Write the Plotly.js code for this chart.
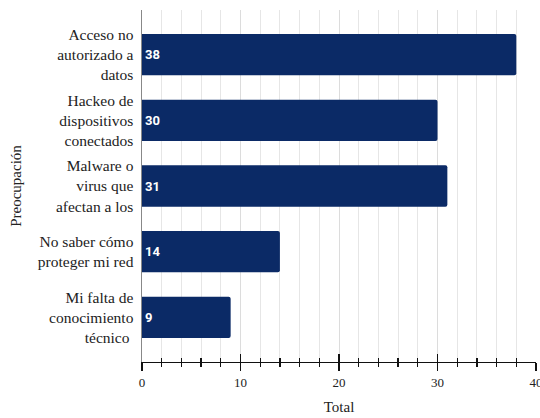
<!DOCTYPE html>
<html><head><meta charset="utf-8">
<script src="https://cdn.plot.ly/plotly-3.0.1.min.js"></script>
<style>body{margin:0;padding:0;background:#fff}#chart{width:540px;height:418px}</style>
</head><body><div id="chart"></div>
<script>
const categories = ["Acceso no<br>autorizado a<br>datos","Hackeo de<br>dispositivos<br>conectados","Malware o<br>virus que<br>afectan a los","No saber cómo<br>proteger mi red","Mi falta de<br>conocimiento<br>técnico "];
const totals = [38, 30, 31, 14, 9];
const xTickVals = [0, 10, 20, 30, 40];

const serif = "Liberation Serif";
const trace = {
  type: "bar", orientation: "h",
  y: categories, x: totals,
  text: totals.map(String), textposition: "inside", insidetextanchor: "start",
  textfont: {family: "Roboto", size: 13, color: "#ffffff", weight: "bold"},
  marker: {color: "#0b2a66", cornerradius: 2},
  cliponaxis: false, hoverinfo: "none"
};
const dummy = {type:"scatter", x:[0], y:[0], xaxis:"x2", yaxis:"y2", mode:"none", showlegend:false, hoverinfo:"none"};
const layout = {
  width: 540, height: 418,
  margin: {l: 142, r: 4, t: 10, b: 56},
  paper_bgcolor: "#fff", plot_bgcolor: "#fff",
  showlegend: false, bargap: 0.37,
  font: {family: serif, color: "#222"},
  xaxis: {
    range: [0, 40], tickvals: xTickVals, ticks: "outside", ticklen: 8, tickwidth: 1.3, tickcolor: "#111",
    showline: true, linecolor: "#111", linewidth: 1.3,
    showgrid: true, gridcolor: "#dcdcdc", gridwidth: 1,
    minor: {dtick: 2, ticks: "outside", ticklen: 4, tickwidth: 1.3, tickcolor: "#111", showgrid: true, gridcolor: "#e6e6e6", gridwidth: 1},
    tickfont: {family: serif, size: 13, color: "#222"},
    ticklabeloverflow: "allow",
    title: {text: "Total", font: {family: serif, size: 15, color: "#222"}, standoff: 12},
    zeroline: false, fixedrange: true
  },
  xaxis2: {
    overlaying: "x", anchor: "y", range: [0, 40], tickvals: xTickVals, ticks: "inside", ticklen: 8, tickwidth: 1.3, tickcolor: "#111",
    showticklabels: false, showgrid: false, zeroline: false, showline: false,
    minor: {dtick: 2, ticks: "inside", ticklen: 4, tickwidth: 1.3, tickcolor: "#111", showgrid: false}
  },
  yaxis: {
    type: "category", range: [4.68, -0.68],
    showline: true, linecolor: "#888", linewidth: 1.5, ticks: "", showgrid: false, zeroline: false,
    tickfont: {family: serif, size: 15.5, color: "#222"},
    title: {text: "Preocupación", font: {family: serif, size: 15, color: "#222"}, standoff: 12},
    ticklabelstandoff: 4, fixedrange: true
  },
  yaxis2: {overlaying: "y", visible: false, range: [0,1]}
};
Plotly.newPlot("chart", [trace, dummy], layout, {displayModeBar: false, staticPlot: true});
</script></body></html>
